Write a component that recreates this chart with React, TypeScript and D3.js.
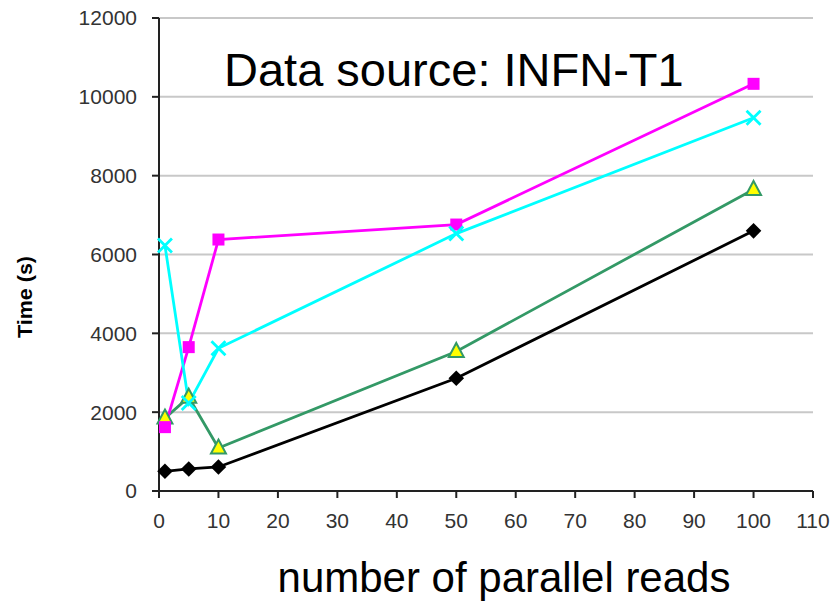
import React from 'react';
import * as d3 from 'd3';

// parallel reads (x) and times in seconds for each series
const reads = [1, 5, 10, 50, 100];
const blackDiamond = [500, 560, 610, 2860, 6600];
const greenTriangle = [1850, 2380, 1090, 3540, 7650];
const magentaSquare = [1620, 3650, 6380, 6760, 10330];
const cyanCross = [6230, 2230, 3620, 6530, 9470];

const xTicks = [0, 10, 20, 30, 40, 50, 60, 70, 80, 90, 100, 110];
const yTicks = [0, 2000, 4000, 6000, 8000, 10000, 12000];

const W = 832;
const H = 601;
const margin = { top: 18, right: 19, bottom: 110, left: 159 };
const font = 'Liberation Sans, Arial, sans-serif';

const App = () => {
  const x = d3.scaleLinear().domain([0, 110]).range([margin.left, W - margin.right]);
  const y = d3.scaleLinear().domain([0, 12000]).range([H - margin.bottom, margin.top]);

  const line = d3.line<[number, number]>()
    .x(d => x(d[0]))
    .y(d => y(d[1]));

  const pts = (vals: number[]) => reads.map((r, i) => [r, vals[i]] as [number, number]);

  const tickFont = { fontFamily: font, fontSize: 21, fill: '#333' };

  return (
    <svg width={W} height={H} style={{ position: 'absolute', left: 0, top: 0, background: '#fff' }}>
      {/* gridlines */}
      {yTicks.filter(t => t > 0).map(t => (
        <line key={t} x1={x(0)} x2={x(110)} y1={y(t)} y2={y(t)} stroke="#c8c8c8" strokeWidth={2} />
      ))}
      {/* axes */}
      <line x1={x(0)} x2={x(0)} y1={y(0)} y2={y(12000)} stroke="#222" strokeWidth={2} />
      <line x1={x(0)} x2={x(110)} y1={y(0)} y2={y(0)} stroke="#222" strokeWidth={2} />
      {yTicks.map(t => (
        <g key={t}>
          <line x1={x(0) - 7} x2={x(0)} y1={y(t)} y2={y(t)} stroke="#222" strokeWidth={2} />
          <text x={x(0) - 22} y={y(t)} dy="0.35em" textAnchor="end" {...tickFont}>{t}</text>
        </g>
      ))}
      {xTicks.map(t => (
        <g key={t}>
          <line x1={x(t)} x2={x(t)} y1={y(0)} y2={y(0) + 7} stroke="#222" strokeWidth={2} />
          <text x={x(t)} y={y(0) + 37} textAnchor="middle" {...tickFont}>{t}</text>
        </g>
      ))}

      {/* series lines */}
      <path d={line(pts(blackDiamond)) || ''} fill="none" stroke="#000" strokeWidth={2.8} />
      <path d={line(pts(greenTriangle)) || ''} fill="none" stroke="#339966" strokeWidth={2.8} />
      <path d={line(pts(magentaSquare)) || ''} fill="none" stroke="#ff00ff" strokeWidth={2.8} />
      <path d={line(pts(cyanCross)) || ''} fill="none" stroke="#00ffff" strokeWidth={2.8} />

      {/* markers */}
      {pts(blackDiamond).map((d, i) => (
        <rect key={'b' + i} x={-5.5} y={-5.5} width={11} height={11} fill="#000"
          transform={`translate(${x(d[0])},${y(d[1])}) rotate(45)`} />
      ))}
      {pts(greenTriangle).map((d, i) => (
        <path key={'g' + i} d="M0,-8.5 L7.5,5.5 L-7.5,5.5 Z" fill="#ffff00" stroke="#339966" strokeWidth={2}
          transform={`translate(${x(d[0])},${y(d[1])})`} />
      ))}
      {pts(magentaSquare).map((d, i) => (
        <rect key={'m' + i} x={x(d[0]) - 6} y={y(d[1]) - 6} width={12} height={12} fill="#ff00ff" />
      ))}
      {pts(cyanCross).map((d, i) => (
        <path key={'c' + i} d="M-7,-7 L7,7 M-7,7 L7,-7" stroke="#00ffff" strokeWidth={2.8}
          transform={`translate(${x(d[0])},${y(d[1])})`} />
      ))}

      {/* labels */}
      <text x={224} y={86} fontFamily={font} fontSize={47} fill="#000">
        Data source: INFN-T1
      </text>
      <text x={504} y={592} textAnchor="middle" fontFamily={font} fontSize={42} fill="#000">
        number of parallel reads
      </text>
      <text transform="translate(32,297) rotate(-90)" textAnchor="middle"
        fontFamily={font} fontSize={20} fontWeight="bold" fill="#000"
        textLength={82} lengthAdjust="spacingAndGlyphs">
        Time (s)
      </text>
    </svg>
  );
};

export default App;
